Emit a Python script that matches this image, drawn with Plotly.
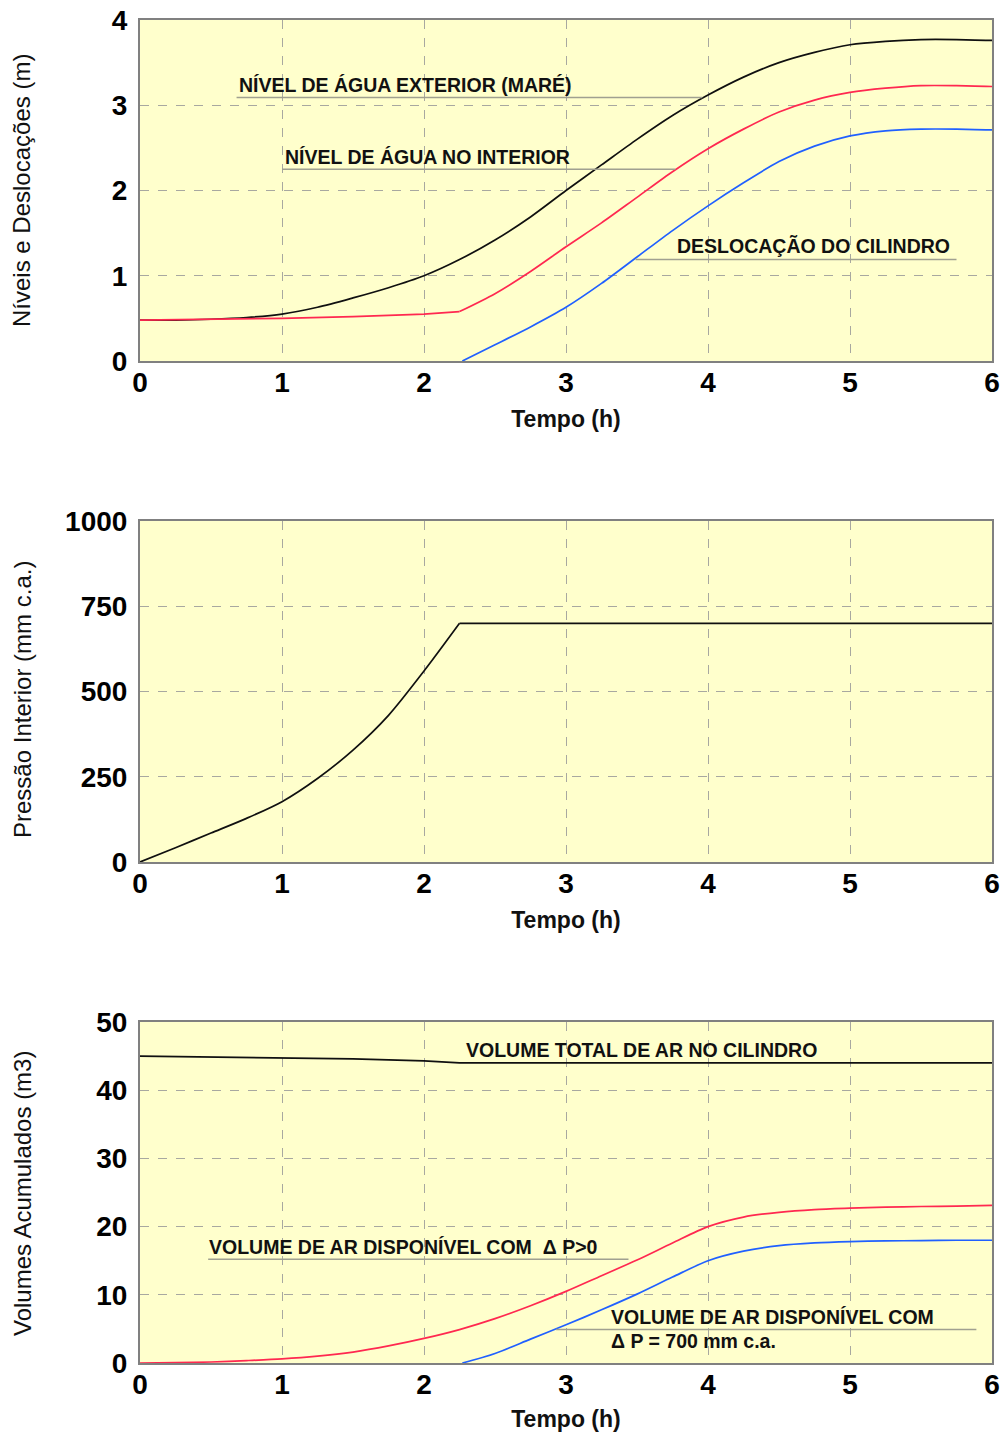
import plotly.graph_objects as go

# ---------------- data ----------------
# Panel 1: levels and displacements (m)
t_ext = [0, 0.25, 0.5, 0.75, 1.0, 1.25, 1.5, 1.75, 2.0, 2.25, 2.5, 2.75, 3.0, 3.25, 3.5,
         3.75, 4.0, 4.25, 4.5, 4.75, 5.0, 5.25, 5.5, 5.75, 6.0]
nivel_exterior = [0.48, 0.48, 0.49, 0.51, 0.55, 0.63, 0.74, 0.86, 1.0, 1.19, 1.42, 1.69, 2.0,
                  2.3, 2.6, 2.88, 3.12, 3.33, 3.5, 3.62, 3.71, 3.75, 3.77, 3.77, 3.76]
t_int = [0, 0.5, 1.0, 1.5, 2.0, 2.25, 2.5, 2.75, 3.0, 3.25, 3.5, 3.75, 4.0, 4.25, 4.5,
         4.75, 5.0, 5.25, 5.5, 5.75, 6.0]
nivel_interior = [0.48, 0.49, 0.50, 0.52, 0.55, 0.58, 0.79, 1.05, 1.34, 1.62, 1.92, 2.22, 2.49,
                  2.72, 2.92, 3.06, 3.15, 3.2, 3.23, 3.23, 3.22]
t_cil = [2.27, 2.5, 2.75, 3.0, 3.25, 3.5, 3.75, 4.0, 4.25, 4.5, 4.75, 5.0, 5.25, 5.5, 5.75, 6.0]
desloc_cilindro = [0.0, 0.19, 0.4, 0.63, 0.91, 1.22, 1.53, 1.82, 2.09, 2.34, 2.52, 2.64, 2.7,
                   2.72, 2.72, 2.71]

# Panel 2: interior pressure (mm c.a.)
t_pres = [0, 0.25, 0.5, 0.75, 1.0, 1.25, 1.5, 1.75, 2.0, 2.25, 6.0]
pressao = [0, 42, 85, 128, 177, 245, 328, 430, 560, 700, 700]

# Panel 3: accumulated volumes (m3)
t_vt = [0, 1.0, 1.5, 2.0, 2.25, 6.0]
vol_total = [45.0, 44.8, 44.6, 44.3, 44.0, 44.0]
t_vd = [0, 0.25, 0.5, 0.75, 1.0, 1.25, 1.5, 1.75, 2.0, 2.25, 2.5, 2.75, 3.0, 3.25, 3.5,
        3.75, 4.0, 4.25, 4.5, 4.75, 5.0, 5.25, 5.5, 5.75, 6.0]
vol_dp0 = [0, 0.05, 0.15, 0.35, 0.6, 1.0, 1.6, 2.5, 3.6, 4.9, 6.5, 8.4, 10.5, 12.8, 15.1,
           17.6, 20.0, 21.4, 22.1, 22.5, 22.7, 22.85, 22.95, 23.0, 23.1]
t_v7 = [2.27, 2.5, 2.75, 3.0, 3.25, 3.5, 3.75, 4.0, 4.25, 4.5, 4.75, 5.0, 5.25, 5.5, 5.75, 6.0]
vol_dp700 = [0, 1.4, 3.5, 5.6, 7.8, 10.1, 12.6, 15.0, 16.4, 17.2, 17.6, 17.8, 17.9, 17.95,
             18.0, 18.0]

x_ticks = [0, 1, 2, 3, 4, 5, 6]
y1_ticks = [0, 1, 2, 3, 4]
y2_ticks = [0, 250, 500, 750, 1000]
y3_ticks = [0, 10, 20, 30, 40, 50]

# ---------------- figure ----------------
W, H = 1008, 1432
BLACK, RED, BLUE = "#101010", "#FF2850", "#2060FF"
FONT = "Liberation Sans, Arial, sans-serif"

fig = go.Figure()


def add_line(x, y, color, xa, ya, shape="spline"):
    fig.add_trace(go.Scatter(x=x, y=y, mode="lines",
                             line=dict(color=color, width=1.7, shape=shape, smoothing=0.8),
                             xaxis=xa, yaxis=ya, showlegend=False, hoverinfo="x+y"))


k_int = t_int.index(2.25)
k_pres = t_pres.index(2.25)

add_line(t_ext, nivel_exterior, BLACK, "x", "y")
add_line(t_int[:k_int + 1], nivel_interior[:k_int + 1], RED, "x", "y", "linear")
add_line(t_int[k_int:], nivel_interior[k_int:], RED, "x", "y")
add_line(t_cil, desloc_cilindro, BLUE, "x", "y")
add_line(t_pres[:k_pres + 1], pressao[:k_pres + 1], BLACK, "x2", "y2")
add_line(t_pres[k_pres:], pressao[k_pres:], BLACK, "x2", "y2", "linear")
add_line(t_vt, vol_total, BLACK, "x3", "y3", "linear")
add_line(t_vd, vol_dp0, RED, "x3", "y3")
add_line(t_v7, vol_dp700, BLUE, "x3", "y3")

xdom = [140 / W, 992 / W]


def ydom(top, bottom):
    return [1 - bottom / H, 1 - top / H]


common = dict(showline=True, mirror=True, linecolor="#808080", linewidth=2,
              showgrid=True, gridcolor="#A8A8A0", griddash="dash", gridwidth=1,
              zeroline=False, automargin=False,
              tickfont=dict(family=FONT, size=28, color="#000", weight="bold"))

xtitle = dict(text="Tempo (h)", font=dict(family=FONT, size=23, color="#111", weight="bold"),
              standoff=14)

for i in (1, 2, 3):
    sfx = "" if i == 1 else str(i)
    fig.layout["xaxis" + sfx] = dict(domain=xdom, anchor="y" + sfx, range=[0, 6],
                                     tickvals=x_ticks, title=xtitle, ticks="",
                                     ticklabelstandoff=-5, **common)
yt = dict(ticks="outside", ticklen=5, tickcolor="rgba(0,0,0,0)")
fig.layout["yaxis"] = dict(domain=ydom(20, 361), anchor="x", range=[0, 4], tickvals=y1_ticks,
                           **yt, **common)
fig.layout["yaxis2"] = dict(domain=ydom(521, 862), anchor="x2", range=[0, 1000], tickvals=y2_ticks,
                            **yt, **common)
fig.layout["yaxis3"] = dict(domain=ydom(1022, 1363), anchor="x3", range=[0, 50], tickvals=y3_ticks,
                            **yt, **common)

ann_font = dict(family=FONT, size=19.5, color="#111", weight="bold")
ylab_font = dict(family=FONT, size=24, color="#111")
annotations = [
    dict(text="NÍVEL DE ÁGUA EXTERIOR (MARÉ)", x=0.68, y=3.24, xref="x", yref="y"),
    dict(text="NÍVEL DE ÁGUA NO INTERIOR", x=1.01, y=2.39, xref="x", yref="y"),
    dict(text="DESLOCAÇÃO DO CILINDRO", x=3.77, y=1.35, xref="x", yref="y"),
    dict(text="VOLUME TOTAL DE AR NO CILINDRO", x=2.28, y=45.9, xref="x3", yref="y3"),
    dict(text="VOLUME DE AR DISPONÍVEL COM  Δ P>0", x=0.47, y=17.0, xref="x3", yref="y3"),
    dict(text="VOLUME DE AR DISPONÍVEL COM", x=3.30, y=6.74, xref="x3", yref="y3"),
    dict(text="Δ P = 700 mm c.a.", x=3.30, y=3.23, xref="x3", yref="y3"),
]
for a in annotations:
    a.update(xanchor="left", yanchor="middle", showarrow=False, font=ann_font)

for text, yc in [("Níveis e Deslocações (m)", 191), ("Pressão Interior (mm c.a.)", 700),
                 ("Volumes Acumulados (m3)", 1194)]:
    annotations.append(dict(text=text, x=22 / W, y=1 - yc / H, xref="paper", yref="paper",
                            textangle=-90, xanchor="center", yanchor="middle", showarrow=False,
                            font=ylab_font))

line_style = dict(color="#A0A090", width=1.5)
shapes = [
    dict(type="line", x0=0.68, x1=3.96, y0=3.09, y1=3.09, xref="x", yref="y", line=line_style),
    dict(type="line", x0=1.0, x1=3.77, y0=2.25, y1=2.25, xref="x", yref="y", line=line_style),
    dict(type="line", x0=3.49, x1=5.75, y0=1.19, y1=1.19, xref="x", yref="y", line=line_style),
    dict(type="line", x0=0.48, x1=3.44, y0=15.2, y1=15.2, xref="x3", yref="y3", line=line_style),
    dict(type="line", x0=2.93, x1=5.89, y0=4.9, y1=4.9, xref="x3", yref="y3", line=line_style),
]

fig.update_layout(width=W, height=H, margin=dict(l=0, r=0, t=0, b=0),
                  paper_bgcolor="white", plot_bgcolor="#FFFFCC",
                  annotations=annotations, shapes=shapes, showlegend=False)

fig.write_html("out.html", config={"displayModeBar": False},
               post_script="document.body.style.margin='0';document.body.style.overflow='hidden';")
